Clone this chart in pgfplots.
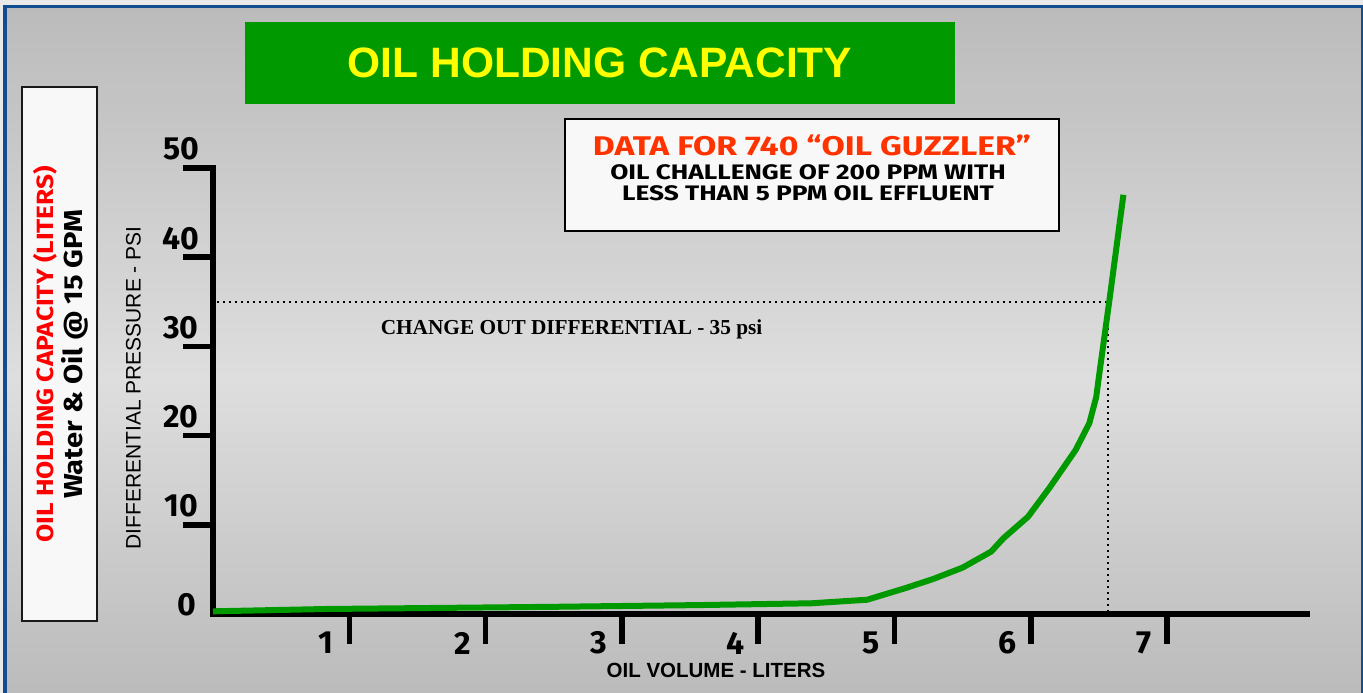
\documentclass[border=0pt]{standalone}
\usepackage{pgfplots}
\pgfplotsset{compat=1.18}
\usepackage{fontspec}
\setmainfont{Liberation Sans}
\newfontfamily\gill{Fira Sans}
\newfontfamily\gillA{Fira Sans}[FakeStretch=1.25]
\newfontfamily\gillB{Fira Sans}[FakeStretch=1.12]
\newfontfamily\timesf{Liberation Serif}
\definecolor{bgblue}{HTML}{124E8F}
\definecolor{outercol}{HTML}{E9E9E9}
\definecolor{bgtop}{HTML}{BBBBBB}
\definecolor{bgmid}{HTML}{DEDEDE}
\definecolor{titlegreen}{HTML}{009900}
\definecolor{ttlyellow}{HTML}{FFFF00}
\definecolor{boxwhite}{HTML}{F8F8F8}
\definecolor{orred}{HTML}{FF3300}
\definecolor{curvegreen}{HTML}{009900}

\pgfplotstableread{
x y
0.00 0.3
0.83 0.56
2.47 0.8
3.57 1.0
4.39 1.2
4.80 1.6
5.08 2.9
5.28 3.9
5.50 5.2
5.71 7.0
5.80 8.5
5.98 10.9
6.14 14.2
6.33 18.4
6.43 21.4
6.48 24.3
6.51 27.7
6.58 35.5
6.68 47.0
}\curvedata

\begin{document}
\begin{tikzpicture}[x=1pt,y=1pt]
\fill[outercol] (0,0) rectangle (1363,693);
\fill[bgblue] (3,0) rectangle (1363,688);
\begin{scope}
\clip (7,0) rectangle (1361,684);
\foreach \i in {0,...,68} {
  \pgfmathsetmacro\yc{\i*10+5}
  \pgfmathsetmacro\t{(\yc>313) ? (\yc-313)/371 : (313-\yc)/313}
  \pgfmathsetmacro\p{100*(1-\t)}
  \fill[bgmid!\p!bgtop] (7,\i*10) rectangle (1361,\i*10+10.8);
}
\end{scope}
% title
\fill[titlegreen] (245,589) rectangle (955,671);
\node[text=ttlyellow, font=\fontsize{42.5}{50}\selectfont\bfseries] at (600,630) {OIL HOLDING CAPACITY};
% left box
\draw[line width=2.5pt, draw=black!90, fill=boxwhite] (22,72) rectangle (97,606);
\node[rotate=90, anchor=base, text=red, font=\gillB\bfseries\fontsize{23.5}{26}\selectfont] at (53,339) {OIL HOLDING CAPACITY (LITERS)};
\node[rotate=90, anchor=base, text=black, font=\gillB\bfseries\fontsize{26}{28}\selectfont] at (82,338.5) {Water \& Oil @ 15 GPM};
% data box
\draw[line width=2.5pt, fill=boxwhite] (565,462) rectangle (1059,574);
\node[anchor=base, text=orred, font=\gillA\bfseries\fontsize{27}{30}\selectfont] at (812,537) {DATA FOR 740 “OIL GUZZLER”};
\node[anchor=base, font=\gillA\bfseries\fontsize{21}{24}\selectfont] at (808,513) {OIL CHALLENGE OF 200 PPM WITH};
\node[anchor=base, font=\gillA\bfseries\fontsize{21}{24}\selectfont] at (808,492) {LESS THAN 5 PPM OIL EFFLUENT};

\begin{axis}[
  at={(213pt,79pt)}, anchor=south west,
  scale only axis, width=1094pt, height=446pt,
  xmin=0, xmax=8.027, ymin=0, ymax=50,
  axis x line=bottom, axis y line=left,
  axis line style={line width=5.5pt, -, line cap=rect, black},
  xtick={1,2,3,4,5,6,7}, xticklabels={1,2,3,4,5,6,7},
  ytick={10,20,30,40,50}, yticklabels={10,20,30,40,50},
  extra y ticks={0}, extra y tick labels={0},
  extra y tick style={tick style={draw=none}, yticklabel style={xshift=6pt, yshift=-10pt}},
  tick align=outside, major tick length=30pt,
  tick style={line width=5.5pt, black},
  /pgf/number format/assume math mode=true,
  xticklabel style={font=\gill\bfseries\fontsize{32}{36}\selectfont, anchor=center, xshift=-23pt, yshift=1pt},
  yticklabel style={font=\gill\bfseries\fontsize{32}{36}\selectfont, anchor=center, xshift=-2pt, yshift=19pt},
  xlabel={OIL VOLUME - LITERS},
  xlabel style={font=\bfseries\fontsize{20.5}{24}\selectfont, at={(axis description cs:0.4598,-0.1256)}, anchor=center},
  ylabel={DIFFERENTIAL PRESSURE - PSI},
  ylabel style={font=\fontsize{21}{24}\selectfont, at={(axis description cs:-0.0727,0.5067)}, anchor=center, rotate=0},
  clip=false,
]
\addplot[black, line width=2pt, dash pattern=on 2pt off 4pt] coordinates {(0.03,35) (6.57,35) (6.57,0.3)};
\addplot[curvegreen, line width=6pt, line join=round] table[x=x, y=y] {\curvedata};
\node[anchor=base west, font=\timesf\bfseries\fontsize{21.3}{24}\selectfont] at (axis cs:1.205,31.28) {CHANGE OUT DIFFERENTIAL - 35 psi};
\end{axis}
\end{tikzpicture}
\end{document}
